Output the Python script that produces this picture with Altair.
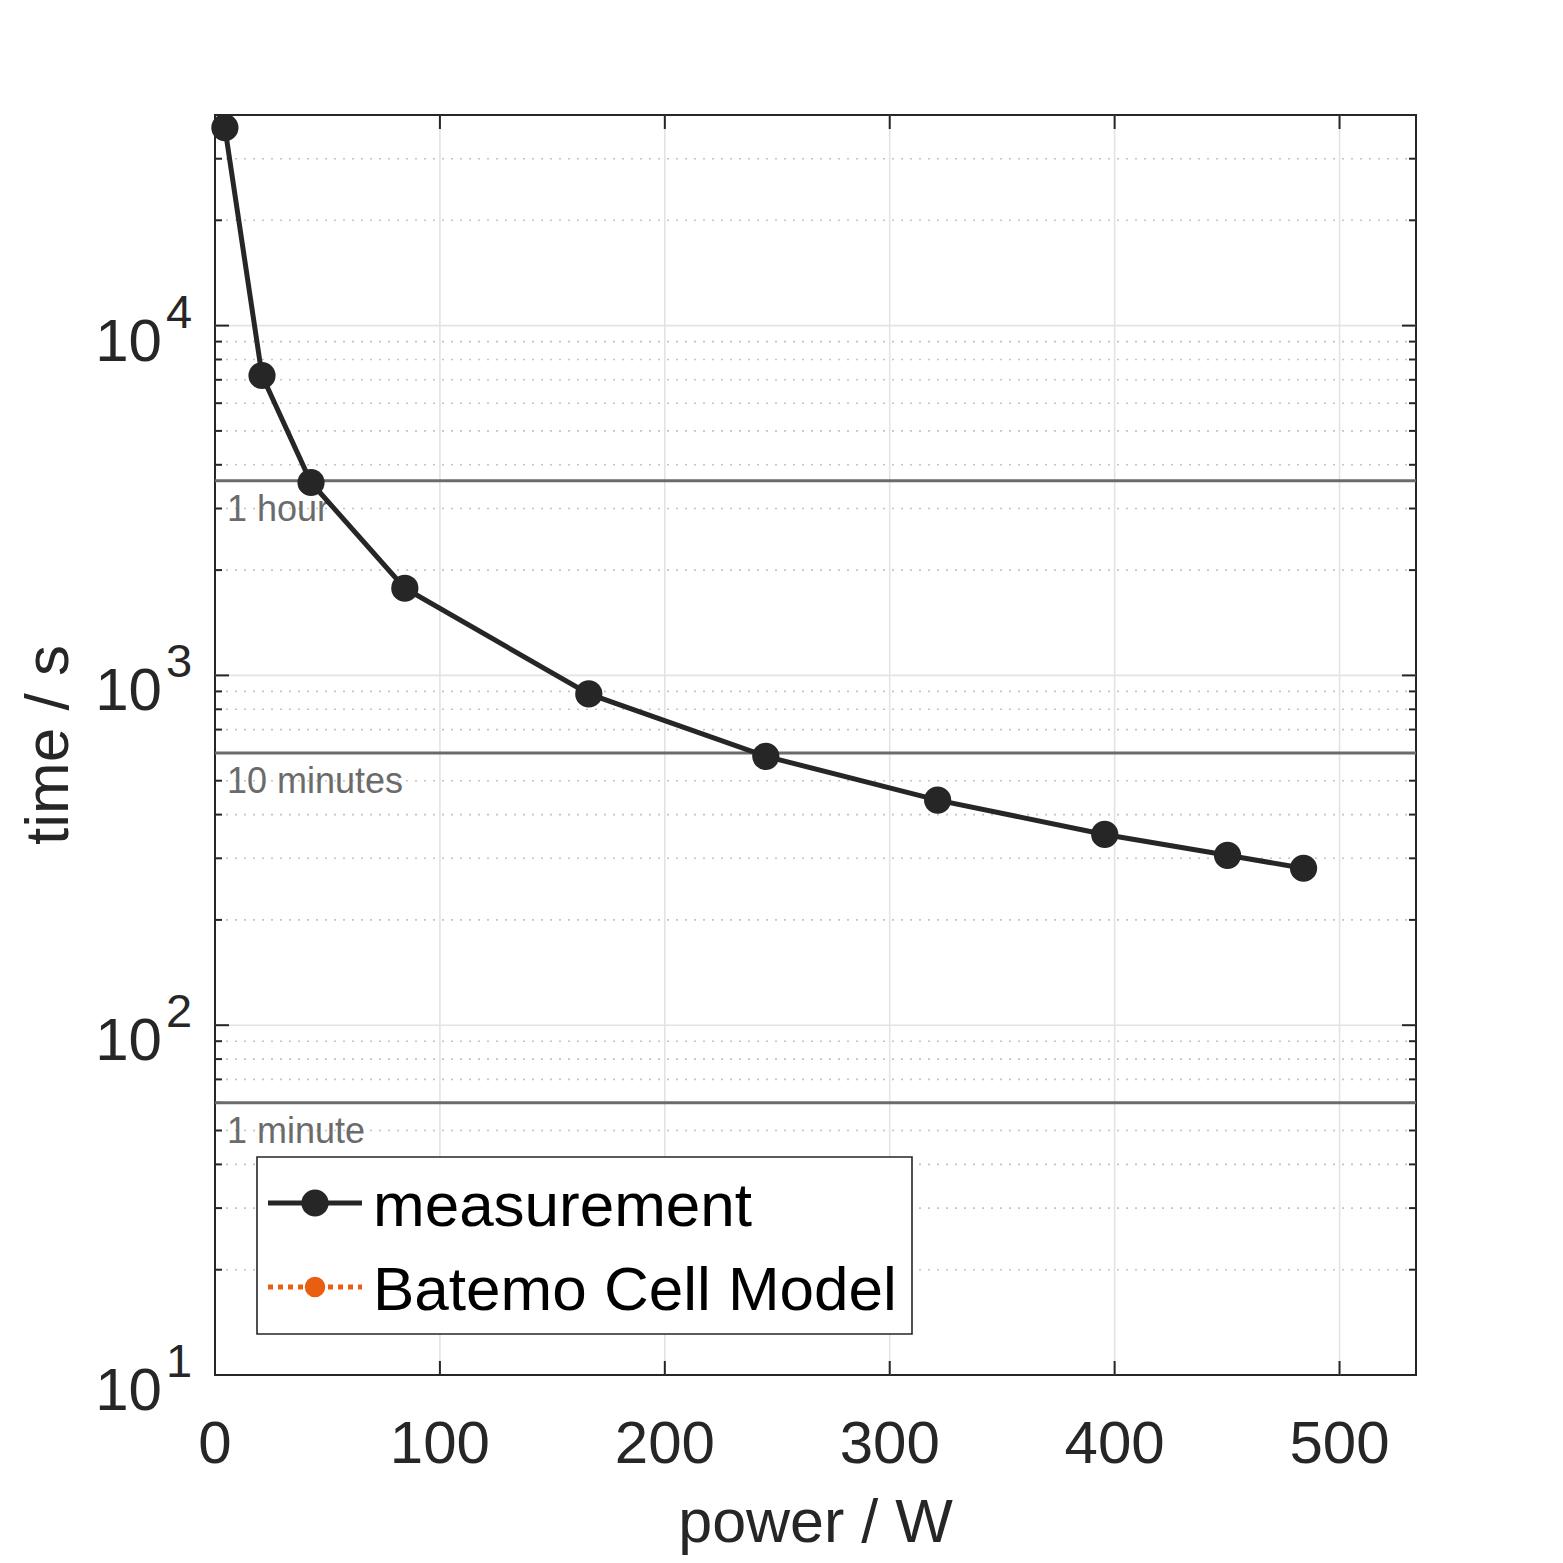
import altair as alt
import pandas as pd

# measured discharge time vs. constant power
power_w = [4.4, 20.9, 42.7, 84.4, 166.2, 244.9, 321.3, 395.6, 450.2, 484.0]
time_s = [36800, 7200, 3560, 1775, 885, 587, 440, 351, 306, 281]

ref_times = [3600, 600, 60]
ref_labels = ["1 hour", "10 minutes", "1 minute"]

x_ticks = [0, 100, 200, 300, 400, 500]
x_tick_labels = ["0", "100", "200", "300", "400", "500"]
y_major = [10, 100, 1000, 10000]
y_exponents = ["1", "2", "3", "4"]
y_minor = [20, 30, 40, 50, 60, 70, 80, 90,
           200, 300, 400, 500, 600, 700, 800, 900,
           2000, 3000, 4000, 5000, 6000, 7000, 8000, 9000,
           20000, 30000]

x_title = "power / W"
y_title = "time / s"
legend_labels = ["measurement", "Batemo Cell Model"]
legend_colors = ["#262626", "#e95e10"]

W, H = 1201, 1260
FONT = "Liberation Sans"
INK = "#262626"

xs = alt.Scale(domain=[0, 534], nice=False, zero=False)
ys = alt.Scale(type="log", domain=[10, 40000], nice=False)

meas = pd.DataFrame({"power": power_w, "time": time_s})
refs = pd.DataFrame({"t": ref_times, "label": ref_labels})
ymaj = pd.DataFrame({"v": y_major, "e": y_exponents})
ymin = pd.DataFrame({"v": y_minor})
xt = pd.DataFrame({"v": x_ticks, "label": x_tick_labels})
titles = pd.DataFrame({"x": [x_title], "y": [y_title]})


def ycol(field="v"):
    return alt.Y(f"{field}:Q", scale=ys, axis=None)


def xcol(field="v"):
    return alt.X(f"{field}:Q", scale=xs, axis=None)


# grid
minor_grid = alt.Chart(ymin).mark_rule(color="#c4c4c4", strokeWidth=1.6, strokeDash=[2, 7]).encode(y=ycol())
major_grid = alt.Chart(ymaj[ymaj.v > 10]).mark_rule(color="#e3e3e3", strokeWidth=1.6).encode(y=ycol())
x_grid = alt.Chart(xt[xt.v > 0]).mark_rule(color="#e3e3e3", strokeWidth=1.6).encode(x=xcol())

# tick marks (inside, all four sides)
tick_layers = []
for df, ln in [(ymaj, 14), (ymin, 7)]:
    tick_layers.append(alt.Chart(df).mark_rule(color=INK, strokeWidth=2).encode(
        y=ycol(), x=alt.value(0), x2=alt.value(ln)))
    tick_layers.append(alt.Chart(df).mark_rule(color=INK, strokeWidth=2).encode(
        y=ycol(), x=alt.value(W - ln), x2=alt.value(W)))
tick_layers.append(alt.Chart(xt).mark_rule(color=INK, strokeWidth=2).encode(
    x=xcol(), y=alt.value(H - 14), y2=alt.value(H)))
tick_layers.append(alt.Chart(xt).mark_rule(color=INK, strokeWidth=2).encode(
    x=xcol(), y=alt.value(0), y2=alt.value(14)))

# reference durations
ref_lines = alt.Chart(refs).mark_rule(color="#6b6b6b", strokeWidth=3).encode(y=ycol("t"))
ref_text = alt.Chart(refs).mark_text(
    align="left", baseline="alphabetic", dy=40, fontSize=36, color="#6b6b6b", font=FONT
).encode(y=ycol("t"), x=alt.value(12), text="label:N")

# axis labels
y_base = alt.Chart(ymaj).mark_text(
    align="right", baseline="alphabetic", dy=35, fontSize=60, color=INK, font=FONT
).encode(y=ycol(), x=alt.value(-53), text=alt.value("10"))
y_exp = alt.Chart(ymaj).mark_text(
    align="left", baseline="alphabetic", dy=2, fontSize=47, color=INK, font=FONT
).encode(y=ycol(), x=alt.value(-49), text="e:N")
x_lab = alt.Chart(xt).mark_text(
    align="center", baseline="alphabetic", fontSize=60, color=INK, font=FONT
).encode(x=xcol(), y=alt.value(H + 88), text="label:N")
x_tit = alt.Chart(titles).mark_text(
    align="center", baseline="alphabetic", fontSize=61, color=INK, font=FONT
).encode(x=alt.value(W / 2), y=alt.value(H + 167), text="x:N")
y_tit = alt.Chart(titles).mark_text(
    align="center", baseline="alphabetic", angle=270, fontSize=62, color=INK, font=FONT
).encode(x=alt.value(-147), y=alt.value(H / 2), text="y:N")

# measurement
line = alt.Chart(meas).mark_line(color=INK, strokeWidth=5).encode(
    x=alt.X("power:Q", scale=xs, axis=None), y=alt.Y("time:Q", scale=ys, axis=None))
points = alt.Chart(meas).mark_point(filled=True, shape="circle", size=740, color=INK, opacity=1).encode(
    x=alt.X("power:Q", scale=xs, axis=None), y=alt.Y("time:Q", scale=ys, axis=None))

# legend box
leg_df = pd.DataFrame({"label": legend_labels, "color": legend_colors})
legend_box = alt.Chart(leg_df.head(1)).mark_rect(fill="white", stroke=INK, strokeWidth=1.6).encode(
    x=alt.value(42), x2=alt.value(697), y=alt.value(1042), y2=alt.value(1219))
legend_parts = []
for i, (lab, col) in enumerate(zip(legend_labels, legend_colors)):
    row = leg_df.iloc[[i]]
    yy = 1088 + i * 84
    dash = [] if i == 0 else [5, 5]
    legend_parts.append(alt.Chart(row).mark_rule(color=col, strokeWidth=5, strokeDash=dash).encode(
        x=alt.value(53), x2=alt.value(147), y=alt.value(yy)))
    legend_parts.append(alt.Chart(row).mark_point(filled=True, shape="circle", size=(740 if i == 0 else 420),
                                                  color=col, opacity=1).encode(
        x=alt.value(100), y=alt.value(yy)))
    legend_parts.append(alt.Chart(row).mark_text(align="left", baseline="alphabetic", fontSize=62,
                                                 color="black", font=FONT).encode(
        x=alt.value(158), y=alt.value(yy + 23), text="label:N"))

chart = alt.layer(
    minor_grid, major_grid, x_grid, *tick_layers, ref_lines, ref_text, line, points,
    y_base, y_exp, x_lab, x_tit, y_tit, legend_box, *legend_parts
).properties(
    width=W, height=H,
    autosize=alt.AutoSizeParams(type="none"),
    padding={"left": 207, "top": 107, "right": 130, "bottom": 180},
).configure(
    font=FONT, background="white",
    view=alt.ViewConfig(stroke=INK, strokeWidth=2),
)

chart.save("out.html", embed_options={"renderer": "svg", "actions": False})
